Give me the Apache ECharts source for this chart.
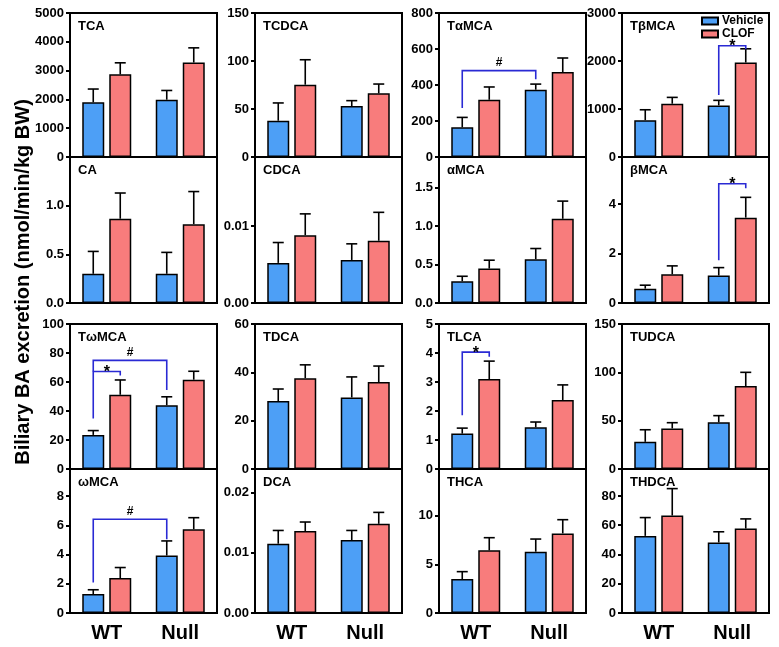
<!DOCTYPE html>
<html>
<head>
<meta charset="utf-8">
<script src="https://cdn.jsdelivr.net/npm/echarts@6/dist/echarts.min.js"></script>
<style>
html,body{margin:0;padding:0;background:#fff;}
#chart{width:779px;height:647px;}
</style>
</head>
<body>
<div id="chart"></div>
<script>
// ---- data ----
const categories = ['WT', 'Null'];
const seriesNames = ['Vehicle', 'CLOF'];
// panels in row-major order (4 rows x 4 columns)
const panelNames = [
  'TCA', 'TCDCA', 'TαMCA', 'TβMCA',
  'CA', 'CDCA', 'αMCA', 'βMCA',
  'TωMCA', 'TDCA', 'TLCA', 'TUDCA',
  'ωMCA', 'DCA', 'THCA', 'THDCA'
];
const vehicleMean = [
  [1900, 1990], [37.8, 53.1], [165, 374], [768, 1075],
  [0.30, 0.30], [0.00522, 0.0056], [0.283, 0.57], [0.58, 1.11],
  [23.5, 44], [28.1, 29.6], [1.22, 1.44], [28.1, 48.3],
  [1.30, 3.93], [0.0115, 0.0121], [3.49, 6.30], [52.7, 48.2]
];
const vehicleErr = [
  [460, 320], [18.5, 5.6], [55, 31], [216, 105],
  [0.23, 0.22], [0.00265, 0.0021], [0.065, 0.139], [0.14, 0.32],
  [3, 5.8], [5, 8.5], [0.19, 0.18], [12.5, 6.9],
  [0.29, 1.0], [0.0022, 0.0016], [0.76, 1.3], [12.5, 7.3]
];
const clofMean = [
  [2870, 3280], [75.3, 66.3], [318, 472], [1110, 1968],
  [0.866, 0.81], [0.00883, 0.0081], [0.448, 1.096], [1.16, 3.45],
  [51.2, 61.6], [37.6, 36], [3.10, 2.38], [42, 85.8],
  [2.39, 5.73], [0.0136, 0.0148], [6.44, 8.18], [66.6, 57.7]
];
const clofErr = [
  [400, 510], [26, 9.7], [71, 78], [132, 286],
  [0.264, 0.335], [0.00277, 0.0037], [0.109, 0.23], [0.34, 0.82],
  [10.2, 5.8], [5.5, 6.6], [0.62, 0.52], [5.9, 14.2],
  [0.72, 0.79], [0.0015, 0.0019], [1.3, 1.41], [18.4, 6.6]
];
const yMax = [
  5000, 150, 800, 3000,
  1.5, 0.019, 1.9, 5.9,
  100, 60, 5, 150,
  9.85, 0.0239, 14.8, 98.4
];
const yInterval = [
  1000, 50, 200, 1000,
  0.5, 0.01, 0.5, 2,
  20, 20, 1, 50,
  2, 0.01, 5, 20
];
const yDecimals = [
  0, 0, 0, 0,
  1, 2, 1, 0,
  0, 0, 0, 0,
  0, 2, 0, 0
];
// significance brackets: [panel, cat1, side1(-1 vehicle, 1 clof), yBottom1, cat2, side2, yBottom2, yTop, label]
const brackets = [
  [2, 0, -1, 272, 1, -1, 432, 480, '#'],
  [3, 1, -1, 1291, 1, 1, 2247, 2317, '*'],
  [7, 1, -1, 1.73, 1, 1, 4.64, 4.82, '*'],
  [8, 0, -1, 34.9, 0, 1, 64.4, 67.2, '*'],
  [8, 0, -1, 67.2, 1, -1, 54.4, 74.9, '#'],
  [12, 0, -1, 2.09, 1, -1, 5.05, 6.41, '#'],
  [10, 0, -1, 1.85, 0, 1, 3.87, 4.03, '*']
];
const yTitle = 'Biliary BA excretion (nmol/min/kg BW)';

// ---- layout / style ----
const FONT = '"Liberation Sans", Arial, Helvetica, sans-serif';
const colLeft = [70, 255, 439, 622];
const colWidth = 147;
const rowTop = [13, 157, 324, 469];
const rowHeight = [144, 146, 145, 144];
const BAR_W = 22, BAR_GAP = 5;
const OFFSET = (BAR_W + BAR_GAP) / 2;
const colors = ['#4d9ff6', '#f87c7c'];

const chart = echarts.init(document.getElementById('chart'), null, {renderer: 'canvas'});

const grids = [], xAxes = [], yAxes = [], series = [], graphics = [];

panelNames.forEach((name, i) => {
  const r = Math.floor(i / 4), c = i % 4;
  grids.push({
    left: colLeft[c], top: rowTop[r], width: colWidth, height: rowHeight[r],
    show: true, borderColor: '#000', borderWidth: 2, backgroundColor: 'transparent'
  });
  xAxes.push({
    type: 'category', gridIndex: i, data: categories,
    axisLine: {show: true, lineStyle: {color: '#000', width: 2}},
    axisTick: {show: false},
    axisLabel: {show: r === 3, color: '#000', fontSize: 20, fontWeight: 'bold', fontFamily: FONT, margin: 10}
  });
  const dec = yDecimals[i];
  yAxes.push({
    type: 'value', gridIndex: i, min: 0, max: yMax[i], interval: yInterval[i],
    splitLine: {show: false},
    axisLine: {show: true, lineStyle: {color: '#000', width: 2}},
    axisTick: {show: true, length: 4, lineStyle: {color: '#000', width: 2}},
    axisLabel: {
      color: '#000', fontSize: 13, fontWeight: 'bold', fontFamily: FONT, margin: 6,
      showMaxLabel: (r === 0 || r === 2),
      formatter: v => Number(v).toFixed(dec)
    }
  });
  const means = [vehicleMean[i], clofMean[i]];
  const errs = [vehicleErr[i], clofErr[i]];
  seriesNames.forEach((sn, s) => {
    series.push({
      name: sn, type: 'bar', xAxisIndex: i, yAxisIndex: i,
      data: means[s], barWidth: BAR_W, barGap: (BAR_GAP / BAR_W * 100) + '%',
      itemStyle: {color: colors[s], borderColor: '#000', borderWidth: 1.5},
      emphasis: {disabled: true}, z: 2, animation: false
    });
  });
  const errData = [];
  [0, 1].forEach(s => categories.forEach((cat, k) => {
    errData.push([k, s === 0 ? -1 : 1, means[s][k], errs[s][k]]);
  }));
  series.push({
    type: 'custom', xAxisIndex: i, yAxisIndex: i, data: errData, z: 3, animation: false,
    encode: {x: 0, y: 2}, silent: true,
    renderItem: (params, api) => {
      const k = api.value(0), side = api.value(1), m = api.value(2), e = api.value(3);
      const p0 = api.coord([k, m]), p1 = api.coord([k, m + e]);
      const x = p0[0] + side * OFFSET;
      const st = {stroke: '#000', lineWidth: 1.6};
      return {type: 'group', children: [
        {type: 'line', shape: {x1: x, y1: p0[1], x2: x, y2: p1[1]}, style: st},
        {type: 'line', shape: {x1: x - 5.5, y1: p1[1], x2: x + 5.5, y2: p1[1]}, style: st}
      ]};
    }
  });
  const bl = brackets.filter(b => b[0] === i);
  if (bl.length) {
    series.push({
      type: 'custom', xAxisIndex: i, yAxisIndex: i, z: 4, animation: false, silent: true,
      data: bl.map(b => [b[1], b[7]]), encode: {x: 0, y: 1},
      renderItem: (params, api) => {
        const b = bl[params.dataIndex];
        const a1 = api.coord([b[1], b[3]]), a2 = api.coord([b[4], b[6]]);
        const t = api.coord([b[1], b[7]]);
        const x1 = a1[0] + b[2] * OFFSET, x2 = a2[0] + b[5] * OFFSET;
        const yt = t[1];
        const isStar = b[8] === '*';
        return {type: 'group', children: [
          {type: 'polyline', shape: {points: [[x1, a1[1]], [x1, yt], [x2, yt], [x2, a2[1]]]},
           style: {stroke: '#2a2ad4', lineWidth: 1.6, fill: null}},
          {type: 'text', x: (x1 + x2) / 2, y: isStar ? yt + 1 : yt - 2,
           style: {text: b[8], fill: '#000', font: 'bold ' + (isStar ? 16 : 12) + 'px ' + FONT,
                   align: 'center', verticalAlign: isStar ? 'middle' : 'bottom'}}
        ]};
      }
    });
  }
  graphics.push({
    type: 'text', left: colLeft[c] + 8, top: rowTop[r] + 7,
    style: {text: name, fill: '#000', font: 'bold 13px ' + FONT}
  });
});

graphics.push({
  type: 'text', x: 23, y: 282, rotation: Math.PI / 2,
  style: {text: yTitle, fill: '#000', font: 'bold 20px ' + FONT, align: 'center', verticalAlign: 'middle'}
});

chart.setOption({
  animation: false,
  backgroundColor: '#fff',
  grid: grids,
  xAxis: xAxes,
  yAxis: yAxes,
  series: series,
  graphic: graphics,
  legend: {
    data: seriesNames, orient: 'vertical', left: 701, top: 15,
    icon: 'rect', itemWidth: 16, itemHeight: 7, itemGap: 1, padding: 0,
    textStyle: {color: '#000', fontSize: 12, fontWeight: 'bold', fontFamily: FONT, lineHeight: 10, padding: [0, 0, 0, -1]},
    selectedMode: false
  }
});
</script>
</body>
</html>
